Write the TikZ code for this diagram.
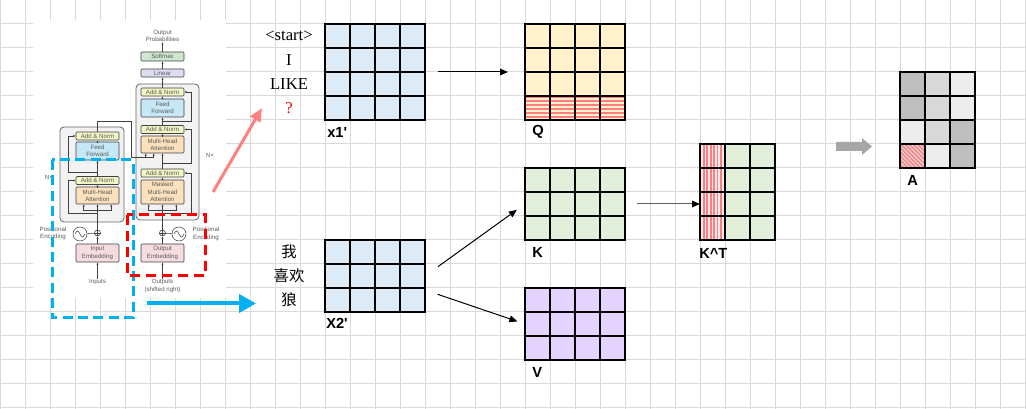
\documentclass[tikz,border=0pt]{standalone}
\usepackage{fontspec}
\setmainfont{Liberation Sans}
\newfontfamily\serffont{Liberation Serif}
\newfontfamily\cjkfont{Noto Sans CJK SC}
\usepackage{tikz}
\usetikzlibrary{arrows.meta,calc,patterns.meta}

\definecolor{gridgray}{HTML}{D9D9D9}
\definecolor{xblue}{HTML}{DDEBF7}
\definecolor{qyellow}{HTML}{FFF2CC}
\definecolor{kgreen}{HTML}{E2EFDA}
\definecolor{vpurple}{HTML}{E4D2FF}
\definecolor{stripred}{HTML}{FF7C80}
\definecolor{adark}{HTML}{BFBFBF}
\definecolor{amid}{HTML}{D9D9D9}
\definecolor{alight}{HTML}{EDEDED}
\definecolor{rosered}{HTML}{FF8080}
\definecolor{skyblue}{HTML}{00B0F0}
\definecolor{blockgray}{HTML}{A6A6A6}
\definecolor{tfline}{HTML}{404040}
\definecolor{tftext}{HTML}{5A5A5A}
\definecolor{tfnorm}{HTML}{F2F5C4}
\definecolor{tfff}{HTML}{C6E7F5}
\definecolor{tfatt}{HTML}{FBE0BC}
\definecolor{tfsoft}{HTML}{CDE8CF}
\definecolor{tflin}{HTML}{DDDDF2}
\definecolor{tfemb}{HTML}{F6DCDF}
\definecolor{tfblock}{HTML}{F2F2F2}

\begin{document}
\begin{tikzpicture}[x=0.75pt, y=-0.75pt,
    gridline/.style={gridgray, line width=0.75pt},
    mat/.style={rectangle, inner sep=0pt, outer sep=0pt},
    matline/.style={black, line width=0.9pt, line cap=rect},
    matname/.style={font=\fontsize{11}{13}\selectfont\bfseries, anchor=west, inner sep=0pt},
    tok/.style={font=\serffont\fontsize{12.5}{14}\selectfont, inner sep=0pt},
    cn/.style={font=\cjkfont\fontsize{11.5}{13}\selectfont, inner sep=0pt},
    arr/.style={-{Triangle[length=6pt,width=5pt]}, line width=0.75pt, black},
    grayarr/.style={-{Triangle[length=6pt,width=5pt,black]}, line width=0.75pt, gray!75!black},
    pinkarr/.style={-{Triangle[length=10pt,width=8.5pt]}, line width=2.25pt, rosered},
    bluearr/.style={-{Triangle[length=12.75pt,width=13.5pt]}, line width=3pt, skyblue},
    bluedash/.style={draw=skyblue, line width=2.25pt, dash pattern=on 7.5pt off 4pt},
    reddash/.style={draw=red, line width=2.25pt, dash pattern=on 7.5pt off 4.5pt},
    tfbox/.style={draw=tfline, line width=0.4pt, rounded corners=0.8pt, inner sep=0pt, minimum width=32.25pt, align=center, text=tftext, font=\fontsize{4.6}{5.4}\selectfont},
    tfblk/.style={draw=tfline!80, fill=tfblock, line width=0.6pt, rounded corners=3pt, inner sep=0pt},
    tfcirc/.style={circle, draw=tfline, line width=0.4pt, inner sep=0pt},
    tfnote/.style={text=tftext, font=\fontsize{4.6}{5.4}\selectfont, align=center, inner sep=0pt},
    tfarr/.style={-{Latex[length=1.8pt,width=1.6pt]}, tfline, line width=0.4pt},
    tfln/.style={tfline, line width=0.4pt},
  ]
    \useasboundingbox (0,0) rectangle (1026,409);

    % sheet grid
    \foreach \gx in {0,25,...,1025} \draw[gridline] (\gx,0) -- (\gx,409);
    \foreach \gy in {0,24,...,408} \draw[gridline] (0,\gy) -- (1026,\gy);

    % transformer figure
    \fill[white] (33,20) rectangle (226,298);
    \node[tfblk, minimum width=48pt, minimum height=71.25pt] (encblk) at (92,174.5) {};
    \node[tfblk, minimum width=47.25pt, minimum height=102pt] (decblk) at (167.5,152) {};

    \node[tfbox, fill=tfnorm, minimum height=6pt] (ean2) at (97.5,136) {Add \& Norm};
    \node[tfbox, fill=tfff, minimum height=13.5pt] (eff) at (97.5,151) {Feed\\Forward};
    \node[tfbox, fill=tfnorm, minimum height=6pt] (ean1) at (97.5,180.5) {Add \& Norm};
    \node[tfbox, fill=tfatt, minimum height=12.75pt] (emha) at (97.5,195.5) {Multi-Head\\Attention};
    \node[tfbox, fill=tfemb, minimum height=13.5pt] (eemb) at (97.5,253) {Input\\Embedding};
    \node[tfcirc, minimum size=4.5pt] (eplus) at (97.5,233) {};
    \node[tfcirc, minimum size=10.5pt] (esine) at (80,234) {};
    \node[tfnote] (epos) at (53,233.5) {Positional\\Encoding};
    \node[tfnote] (einp) at (97.5,282) {Inputs};
    \node[tfnote] (enx) at (49,177) {N×};

    \node[tfnote] (dprob) at (162.5,36) {Output\\Probabilities};
    \node[tfbox, fill=tfsoft, minimum height=6.75pt] (dsoft) at (162.5,56.5) {Softmax};
    \node[tfbox, fill=tflin, minimum height=6pt] (dlin) at (162.5,73) {Linear};
    \node[tfbox, fill=tfnorm, minimum height=6pt] (dan3) at (162.5,92) {Add \& Norm};
    \node[tfbox, fill=tfff, minimum height=13.5pt] (dff) at (162.5,108) {Feed\\Forward};
    \node[tfbox, fill=tfnorm, minimum height=6pt] (dan2) at (162.5,129.5) {Add \& Norm};
    \node[tfbox, fill=tfatt, minimum height=12.75pt] (dmha) at (162.5,144.5) {Multi-Head\\Attention};
    \node[tfbox, fill=tfnorm, minimum height=6pt] (dan1) at (162.5,173) {Add \& Norm};
    \node[tfbox, fill=tfatt, minimum height=18pt] (dmmha) at (162.5,192) {Masked\\Multi-Head\\Attention};
    \node[tfcirc, minimum size=4.5pt] (dplus) at (162.5,233) {};
    \node[tfcirc, minimum size=10.5pt] (dsine) at (179,234) {};
    \node[tfnote] (dpos) at (206,234) {Positional\\Encoding};
    \node[tfbox, fill=tfemb, minimum height=13.5pt] (demb) at (162.5,253) {Output\\Embedding};
    \node[tfnote] (dout) at (162.5,286) {Outputs\\(shifted right)};
    \node[tfnote] (dnx) at (210,155) {N×};

    % plus and sine marks
    \foreach \p in {eplus,dplus} \draw[tfln] (\p.north) -- (\p.south) (\p.west) -- (\p.east);
    \foreach \s in {esine,dsine} \draw[tfln] ($(\s)+(-5,0)$) sin ++(2.5,-3) cos ++(2.5,3) sin ++(2.5,3) cos ++(2.5,-3);

    % encoder wiring
    \draw[tfarr] (einp) -- (eemb);
    \draw[tfarr] (eemb) -- (eplus);
    \draw[tfln] (esine) -- (eplus);
    \draw[tfarr] (eplus) -- (emha);
    \draw[tfarr] ($(emha.south)+(0,9)$) -- ++(-29.5,0) |- (ean1.west);
    \draw[tfarr] ($(emha.south)+(0,6)$) -| ($(emha.south west)+(8,0)$);
    \draw[tfarr] ($(emha.south)+(0,6)$) -| ($(emha.south east)+(-8,0)$);
    \draw[tfarr] (emha) -- (ean1);
    \draw[tfarr] (ean1) -- (eff);
    \draw[tfarr] ($(ean1.north)+(0,-4)$) -- ++(-29.5,0) |- (ean2.west);
    \draw[tfarr] (eff) -- (ean2);
    \draw[tfln] (ean2.north) -- ++(0,-10) -- ++(33.5,0) -- ++(0,36) coordinate (encout);
    \draw[tfarr] (encout) -| ($(dmha.south west)+(5,0)$);
    \draw[tfarr] (encout) -| ($(dmha.south west)+(13,0)$);

    % decoder wiring
    \draw[tfarr] (dout) -- (demb);
    \draw[tfarr] (demb) -- (dplus);
    \draw[tfln] (dsine) -- (dplus);
    \draw[tfarr] (dplus) -- (dmmha);
    \draw[tfarr] ($(dmmha.south)+(0,9)$) -- ++(28.5,0) |- (dan1.east);
    \draw[tfarr] ($(dmmha.south)+(0,6)$) -| ($(dmmha.south west)+(8,0)$);
    \draw[tfarr] ($(dmmha.south)+(0,6)$) -| ($(dmmha.south east)+(-8,0)$);
    \draw[tfarr] (dmmha) -- (dan1);
    \draw[tfarr] (dan1) -- (dmha);
    \draw[tfarr] ($(dan1.north)+(0,-5)$) -- ++(28.5,0) |- (dan2.east);
    \draw[tfarr] (dmha) -- (dan2);
    \draw[tfarr] (dan2) -- (dff);
    \draw[tfarr] ($(dan2.north)+(0,-4)$) -- ++(28.5,0) |- (dan3.east);
    \draw[tfarr] (dff) -- (dan3);
    \draw[tfarr] (dan3) -- (dlin);
    \draw[tfarr] (dlin) -- (dsoft);
    \draw[tfarr] (dsoft) -- (dprob);

    % highlight frames
    \draw[bluedash] (52,160) rectangle (133,318);
    \draw[reddash] (127,215) rectangle (205,276);

    % matrices
    \node[mat, fill=xblue, minimum width=75pt, minimum height=72pt] (x1) at (375,72) {};
    \node[mat, fill=xblue, minimum width=75pt, minimum height=54pt] (x2) at (375,276) {};
    \node[mat, fill=qyellow, minimum width=75pt, minimum height=72pt] (q) at (575,72) {};
    \node[mat, fill=kgreen, minimum width=75pt, minimum height=54pt] (k) at (575,204) {};
    \node[mat, fill=vpurple, minimum width=75pt, minimum height=54pt] (v) at (575,324) {};
    \node[mat, fill=kgreen, minimum width=56.25pt, minimum height=72pt] (kt) at (737.5,192) {};
    \node[mat, minimum width=56.25pt, minimum height=72pt] (a) at (937.5,120) {};

    % attention weights
    \foreach \i/\j/\col in {0/0/adark, 1/0/amid, 2/0/alight, 0/1/adark, 1/1/amid, 2/1/alight,
                            0/2/alight, 1/2/amid, 2/2/adark, 1/3/alight, 2/3/adark}
      \fill[\col] ($(a.north west)+(25*\i,24*\j)$) rectangle ++(25,24);
    \fill[red!12!gray!30] ($(a.north west)+(0,72)$) rectangle ++(25,24);
    \fill[pattern={Lines[angle=-45,distance=2.2pt,line width=1pt]}, pattern color=stripred]
      ($(a.north west)+(0,72)$) rectangle ++(25,24);

    % masked row / column
    \fill[pattern={Lines[angle=0,distance=3pt,line width=1.5pt]}, pattern color=stripred]
      ($(q.south west)+(0,-24)$) rectangle (q.south east);
    \fill[red!8] (kt.north west) rectangle ($(kt.south west)+(25,0)$);
    \fill[pattern={Lines[angle=90,distance=2.6pt,line width=1.3pt]}, pattern color=stripred]
      (kt.north west) rectangle ($(kt.south west)+(25,0)$);

    \foreach \m/\c/\r in {x1/4/4, x2/4/3, q/4/4, k/4/3, v/4/3, kt/3/4, a/3/4} {
      \foreach \i in {0,...,\c}
        \draw[matline] ($(\m.north west)!\i/\c!(\m.north east)$) -- ($(\m.south west)!\i/\c!(\m.south east)$);
      \foreach \j in {0,...,\r}
        \draw[matline] ($(\m.north west)!\j/\r!(\m.south west)$) -- ($(\m.north east)!\j/\r!(\m.south east)$);
    }

    % matrix names
    \node[matname] (x1name) at (327,132) {x1\textquotesingle};
    \node[matname] (x2name) at (326,323.5) {X2\textquotesingle};
    \node[matname] (qname) at (532,132) {Q};
    \node[matname] (kname) at (532,252.5) {K};
    \node[matname] (vname) at (532,372) {V};
    \node[matname] (ktname) at (699,253) {K\textasciicircum T};
    \node[matname] (aname) at (907,180.5) {A};

    % tokens
    \node[tok] (tstart) at (289,36) {\textless start\textgreater};
    \node[tok] (ti) at (289,60) {I};
    \node[tok] (tlike) at (289,84) {LIKE};
    \node[tok, text=red] (tnext) at (289,108) {?};
    \node[cn] (twe) at (289,252) {我};
    \node[cn] (tlove) at (289,276) {喜欢};
    \node[cn] (twolf) at (289,300) {狼};

    % connectors
    \draw[arr, shorten <=9.75pt, shorten >=12.75pt] (x1) -- (q);
    \draw[arr, shorten <=12pt, shorten >=7.5pt] (x2.east) -- (k.west);
    \draw[arr, shorten <=10pt, shorten >=6pt] ($(x2.east)+(0,14)$) -- (v.west);
    \draw[grayarr, shorten <=9pt] (k.east) -- (k.east -| kt.west);

    \coordinate (pkfrom) at (213,192);
    \coordinate (pkto) at (262,108);
    \draw[pinkarr] (pkfrom) -- (pkto);
    \coordinate (bufrom) at (147,303.5);
    \coordinate (buto) at (256,303.5);
    \draw[bluearr] (bufrom) -- (buto);

    % to A
    \fill[blockgray] (836,142) -- (862,142) -- (862,138) -- (872,146.5) -- (862,155) -- (862,151) -- (836,151) -- cycle;
\end{tikzpicture}
\end{document}
